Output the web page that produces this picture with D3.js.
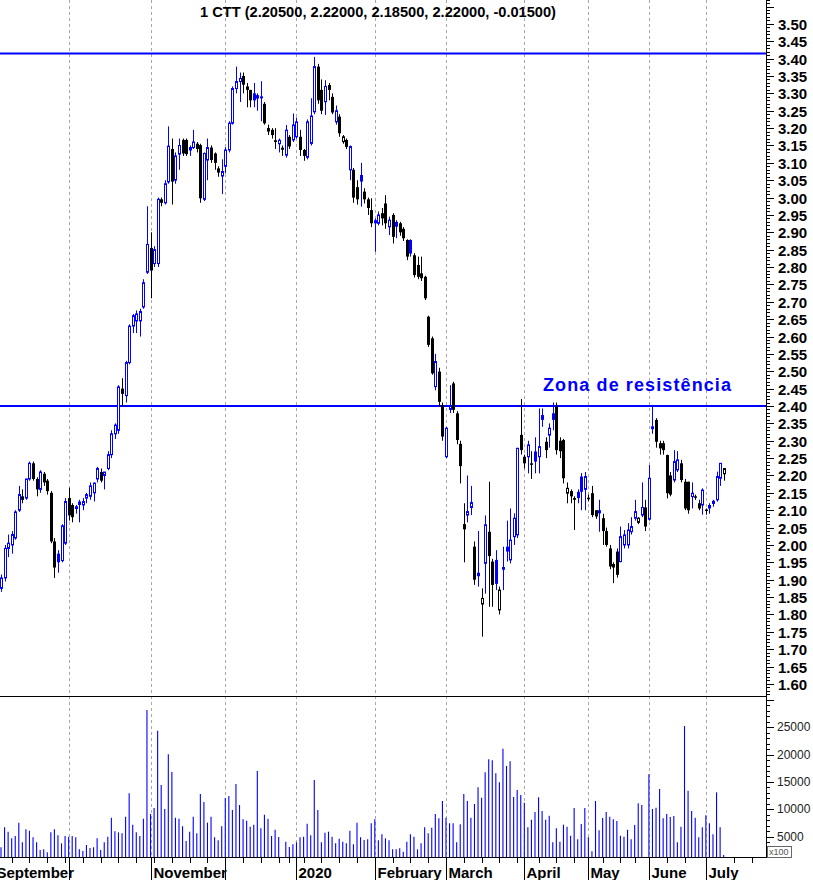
<!DOCTYPE html>
<html>
<head>
<meta charset="utf-8">
<script src="https://cdn.jsdelivr.net/npm/d3@7/dist/d3.min.js"></script>
<style>
  html, body { margin: 0; padding: 0; background: #fff; }
  svg { display: block; }
  text { font-family: "Liberation Sans", Arial, sans-serif; }
</style>
</head>
<body>
<svg id="chart" width="813" height="880"></svg>
<script>
// ---------------- DATA ----------------
const title = "1 CTT (2.20500, 2.22000, 2.18500, 2.22000, -0.01500)";
const annotation = "Zona de resistência";
const resistanceLevels = [3.415, 2.40];

const open = [
 1.875,1.905,1.99,2.00,2.02,2.10,2.14,2.135,2.19,2.235,2.19,2.16,2.205,2.185,2.15,2.01,1.975,1.955,2.005,
 2.135,2.115,2.105,2.125,2.115,2.135,2.14,2.15,2.19,2.21,2.20,2.22,2.26,2.32,2.33,2.45,2.43,2.525,2.63,2.645,2.645,2.685,2.785,
 2.855,2.81,2.81,2.995,2.985,3.045,3.14,3.05,3.125,3.166,3.166,3.137,3.144,3.155,3.151,2.995,3.108,3.144,3.127,3.084,3.062,
 3.09,3.137,3.214,3.314,3.334,3.35,3.32,3.31,3.30,3.295,3.29,3.27,3.20,3.195,3.165,3.155,3.14,3.122,3.175,3.166,
 3.175,3.175,3.137,3.116,3.156,3.247,3.377,3.31,3.276,3.324,3.29,3.218,3.233,3.161,3.166,3.08,3.08,3.03,3.065,3.017,2.995,2.964,
 2.935,2.926,2.955,2.983,2.916,2.95,2.93,2.926,2.91,2.878,2.878,2.834,2.806,2.782,2.772,2.657,2.595,2.456,2.499,2.403,
 2.254,2.39,2.465,2.379,2.291,2.06,2.086,2.108,1.995,1.92,1.83,1.947,2.038,1.952,1.957,1.813,1.93,1.995,1.957,2.024,2.029,2.317,
 2.254,2.254,2.235,2.269,2.254,2.374,2.297,2.316,2.379,2.398,2.30,2.302,2.149,2.155,2.135,2.153,2.197,2.16,
 2.136,2.149,2.10,2.10,2.077,2.04,1.99,1.945,1.981,1.952,2.00,2.00,2.038,2.077,2.065,2.086,2.108,
 2.074,2.335,2.36,2.293,2.293,2.259,2.20,2.187,2.216,2.235,2.182,2.182,2.139,2.14,2.12,2.115,
 2.102,2.115,2.127,2.13,2.192,2.205
];
const high = [
 1.915,2.00,2.03,2.04,2.10,2.17,2.16,2.19,2.24,2.24,2.195,2.215,2.21,2.19,2.155,2.02,1.985,2.06,2.135,
 2.165,2.12,2.115,2.13,2.135,2.15,2.18,2.18,2.225,2.22,2.21,2.27,2.33,2.35,2.46,2.48,2.53,2.635,2.665,2.675,2.68,2.765,2.975,
 2.90,2.86,3.00,3.00,3.05,3.205,3.17,3.13,3.17,3.17,3.17,3.15,3.195,3.16,3.155,3.13,3.17,3.15,3.13,3.09,3.11,
 3.145,3.22,3.32,3.377,3.36,3.36,3.33,3.31,3.33,3.30,3.335,3.275,3.21,3.20,3.20,3.17,3.15,3.209,3.18,3.242,
 3.23,3.195,3.14,3.225,3.286,3.405,3.385,3.34,3.338,3.33,3.30,3.265,3.24,3.18,3.17,3.15,3.085,3.05,3.10,3.027,3.00,2.998,
 2.94,2.96,2.97,3.007,2.945,2.955,2.935,2.93,2.915,2.88,2.88,2.84,2.83,2.83,2.775,2.66,2.60,2.55,2.51,2.41,
 2.34,2.46,2.47,2.385,2.30,2.12,2.20,2.17,2.01,2.04,1.875,2.085,2.182,1.96,1.985,1.88,1.995,2.07,2.105,2.091,2.28,2.42,
 2.26,2.30,2.27,2.31,2.393,2.393,2.31,2.35,2.41,2.41,2.31,2.305,2.18,2.16,2.14,2.16,2.207,2.21,
 2.145,2.17,2.10,2.13,2.09,2.05,2.00,1.95,1.99,2.053,2.043,2.063,2.08,2.13,2.08,2.18,2.13,
 2.23,2.403,2.365,2.30,2.30,2.26,2.21,2.273,2.27,2.245,2.19,2.182,2.18,2.145,2.13,2.163,
 2.105,2.12,2.13,2.211,2.235,2.22
];
const low = [
 1.865,1.895,1.965,1.975,2.015,2.095,2.12,2.13,2.185,2.185,2.14,2.15,2.17,2.145,2.005,1.905,1.92,1.95,2.00,
 2.07,2.065,2.09,2.065,2.10,2.12,2.13,2.125,2.18,2.18,2.16,2.215,2.25,2.305,2.32,2.40,2.41,2.52,2.61,2.61,2.60,2.68,2.78,
 2.71,2.80,2.80,2.975,2.98,3.04,2.98,3.04,3.08,3.12,3.12,3.12,3.14,3.13,2.985,2.99,3.05,3.10,3.08,3.06,3.01,
 3.07,3.13,3.21,3.30,3.275,3.30,3.26,3.26,3.26,3.25,3.22,3.21,3.18,3.17,3.14,3.13,3.12,3.115,3.14,3.16,
 3.17,3.12,3.106,3.11,3.15,3.24,3.27,3.24,3.238,3.28,3.24,3.21,3.175,3.155,3.14,3.05,2.985,2.98,2.974,2.983,2.95,2.915,
 2.844,2.92,2.92,2.91,2.892,2.868,2.883,2.89,2.875,2.82,2.83,2.77,2.765,2.76,2.705,2.57,2.49,2.445,2.40,2.30,
 2.25,2.38,2.38,2.29,2.177,1.95,2.065,2.086,1.885,1.88,1.736,1.86,1.822,1.822,1.87,1.80,1.87,1.952,1.947,2.00,2.02,2.26,
 2.22,2.206,2.19,2.206,2.206,2.34,2.25,2.28,2.33,2.26,2.25,2.177,2.12,2.12,2.043,2.12,2.10,2.10,
 2.125,2.08,2.075,2.038,2.00,1.995,1.93,1.89,1.906,1.95,1.99,1.99,2.03,2.07,2.06,2.08,2.04,
 2.07,2.32,2.28,2.26,2.26,2.134,2.14,2.18,2.21,2.18,2.10,2.09,2.105,2.13,2.10,2.087,
 2.087,2.09,2.11,2.125,2.17,2.185
];
const close = [
 1.905,1.99,2.005,2.03,2.095,2.145,2.13,2.19,2.235,2.19,2.16,2.21,2.18,2.155,2.01,1.935,1.95,2.055,2.125,
 2.085,2.08,2.11,2.115,2.125,2.145,2.17,2.178,2.22,2.185,2.21,2.26,2.32,2.345,2.455,2.435,2.525,2.63,2.66,2.665,2.672,2.755,2.865,
 2.79,2.85,2.995,2.985,3.04,3.148,3.046,3.12,3.15,3.127,3.125,3.144,3.16,3.14,2.998,3.127,3.144,3.108,3.10,3.072,3.075,
 3.137,3.214,3.314,3.334,3.343,3.325,3.31,3.28,3.28,3.285,3.29,3.214,3.19,3.18,3.16,3.165,3.142,3.194,3.147,3.209,
 3.218,3.137,3.12,3.218,3.235,3.377,3.28,3.25,3.32,3.31,3.245,3.25,3.185,3.175,3.146,3.147,3.0,2.995,3.046,2.995,2.97,2.926,
 2.926,2.95,2.94,2.926,2.935,2.887,2.916,2.90,2.883,2.83,2.839,2.777,2.772,2.768,2.71,2.576,2.494,2.528,2.412,2.312,
 2.336,2.40,2.389,2.302,2.227,2.045,2.096,2.122,1.90,1.91,1.846,2.058,1.968,1.885,1.888,1.87,1.935,1.981,2.014,2.077,2.278,2.273,
 2.235,2.288,2.232,2.24,2.283,2.36,2.273,2.336,2.36,2.273,2.27,2.192,2.163,2.14,2.13,2.135,2.153,2.197,
 2.134,2.086,2.082,2.091,2.04,2.00,1.938,1.935,1.914,2.024,2.029,2.043,2.053,2.096,2.077,2.108,2.053,
 2.192,2.34,2.297,2.278,2.273,2.149,2.145,2.24,2.245,2.187,2.105,2.10,2.149,2.139,2.105,2.158,
 2.098,2.105,2.118,2.197,2.235,2.22
];
// volume, in hundreds of shares ("x100")
const volume = [
 3050,6700,5910,4690,5120,7560,3960,6340,6090,4870,3960,2560,2680,2130,5790,6340,5240,3780,5120,
 5000,5120,4870,2680,2370,3470,2920,3050,4690,2560,3960,5000,8470,5970,5790,5600,8650,12920,7190,5790,5120,8290,28150,
 9140,10240,24380,14440,10050,20050,16820,8470,8290,6890,4200,5910,8650,5600,12800,11330,7560,8650,4870,4320,6890,
 12070,12430,9870,14620,10780,8170,7920,6820,7190,17000,6520,9020,8290,5120,6280,4940,1000,4080,3110,3590,
 3960,4870,5000,7370,5240,15360,9870,3960,5730,5910,5000,3780,4630,4080,3780,6090,3590,7560,4870,4390,4510,7440,
 8170,4320,5420,4690,4320,2680,2680,2860,2250,4080,5420,5000,2680,3780,6700,5600,6640,9140,8350,11520,
 8470,7440,7440,3960,7250,12800,11520,8470,10970,14020,12130,16760,19130,18950,16580,14930,21090,17920,18770,12250,13530,12610,
 11210,6700,8110,9510,12190,9690,8110,8840,3960,6520,4080,7190,6820,5180,10240,4510,7310,10240,
 4870,2320,11520,6150,8410,9510,8650,8170,7860,5180,5000,6280,4510,7130,11090,10780,1000,
 16390,10050,10300,13710,8350,9140,8590,8770,3960,6820,25230,13410,9690,8470,4870,6700,
 8900,7440,5420,13100,6700,1650
];

// x-axis: bar index of each month's first session and its label
const monthStartIdx = [-2, 19, 42, 63, 83, 105, 125, 147, 165, 182, 198];
const monthLabels = ["September","October","November","December","2020","February","March","April","May","June","July"];
const weekTickIdx = [3,8,13,18,23,28,33,38,43,48,53,58,68,73,78,81,85,90,95,100,110,115,120,130,135,140,145,151,156,161,169,174,178,187,192,206,211];
const priceTicks = d3.range(160, 351, 5).map(d => d / 100);
const volumeTicks = [5000, 10000, 15000, 20000, 25000];

// ---------------- LAYOUT ----------------
const axisX = 766;
const sepY = 696;
const baseY = 857;

const svg = d3.select("#chart");

const x = d3.scaleLinear().domain([0, 214.61]).range([1, 765]);
const yP = d3.scaleLinear().domain([1.60, 3.50]).range([683.9, 23.9]);
const yV = d3.scaleLinear().domain([0, 25000]).range([864, 727.25]);

// clip paths
svg.append("clipPath").attr("id", "clipP").append("rect").attr("x", 0).attr("y", 0).attr("width", axisX).attr("height", sepY);
svg.append("clipPath").attr("id", "clipV").append("rect").attr("x", 0).attr("y", sepY + 1).attr("width", axisX).attr("height", baseY - sepY - 1);

// month gridlines
const grid = svg.append("g");
monthStartIdx.forEach(i => {
  const gx = Math.round(x(i)) + 0.5;
  if (gx < 0 || gx > axisX) return;
  grid.append("line").attr("x1", gx).attr("x2", gx).attr("y1", 0).attr("y2", baseY)
    .attr("stroke", "#a8a8a8").attr("stroke-width", 1).attr("stroke-dasharray", "3,3");
});

// resistance lines
const gp = svg.append("g").attr("clip-path", "url(#clipP)");
resistanceLevels.forEach(lv => {
  gp.append("line").attr("x1", 0).attr("x2", axisX).attr("y1", yP(lv)).attr("y2", yP(lv))
    .attr("stroke", "#0000ff").attr("stroke-width", 2);
});

// candles
const n = close.length;
for (let i = 0; i < n; i++) {
  const col = (i === 0 || close[i] >= close[i - 1]) ? "#0000ff" : "#000000";
  const hollow = close[i] >= open[i];
  const cx = Math.round(x(i)) + 0.5;
  gp.append("line").attr("x1", cx).attr("x2", cx)
    .attr("y1", yP(high[i])).attr("y2", yP(low[i]))
    .attr("stroke", col).attr("stroke-width", 1);
  const yTop = yP(Math.max(open[i], close[i]));
  const yBot = yP(Math.min(open[i], close[i]));
  if (hollow) {
    const h = Math.max(1, yBot - yTop);
    gp.append("rect").attr("x", cx - 1).attr("y", yTop).attr("width", 2).attr("height", h)
      .attr("fill", "#fff").attr("stroke", col).attr("stroke-width", 1);
  } else {
    const h = Math.max(1.5, yBot - yTop);
    gp.append("rect").attr("x", cx - 1.5).attr("y", yTop).attr("width", 3).attr("height", h)
      .attr("fill", col);
  }
}

// volume bars
const gv = svg.append("g").attr("clip-path", "url(#clipV)");
for (let i = 0; i < n; i++) {
  const vx = x(i);
  gv.append("line").attr("x1", vx).attr("x2", vx).attr("y1", yV(volume[i])).attr("y2", baseY)
    .attr("stroke", "#0000ff").attr("stroke-width", 1.1);
}

// frame lines
svg.append("line").attr("x1", 0).attr("x2", axisX).attr("y1", sepY + 0.5).attr("y2", sepY + 0.5).attr("stroke", "#000").attr("stroke-width", 1);
svg.append("line").attr("x1", 0).attr("x2", axisX + 2).attr("y1", baseY + 0.5).attr("y2", baseY + 0.5).attr("stroke", "#000").attr("stroke-width", 1);
svg.append("line").attr("x1", axisX + 0.5).attr("x2", axisX + 0.5).attr("y1", 0).attr("y2", baseY).attr("stroke", "#000").attr("stroke-width", 1);

// price axis ticks
const axg = svg.append("g");
for (let k = 157; k <= 357; k++) {
  const p = k / 100;
  const ty = Math.round(yP(p)) + 0.5;
  if (ty < 0 || ty > sepY + 2) continue;
  const major = k % 5 === 0;
  axg.append("line").attr("x1", axisX).attr("x2", axisX + (major ? 8 : 4))
    .attr("y1", ty).attr("y2", ty).attr("stroke", "#000").attr("stroke-width", 1);
}
priceTicks.forEach(p => {
  axg.append("text").attr("x", 778).attr("y", yP(p) + 2).attr("dominant-baseline", "middle")
    .attr("font-size", 15).attr("font-weight", "bold").attr("fill", "#000").text(p.toFixed(2));
});

// volume axis ticks
for (let v = 2000; v <= 30000; v += 1000) {
  const ty = Math.round(yV(v)) + 0.5;
  if (ty <= sepY + 1 || ty >= baseY) continue;
  const major = v % 5000 === 0;
  axg.append("line").attr("x1", axisX).attr("x2", axisX + (major ? 8 : 4))
    .attr("y1", ty).attr("y2", ty).attr("stroke", "#000").attr("stroke-width", 1);
}
volumeTicks.forEach(v => {
  axg.append("text").attr("x", 777).attr("y", yV(v) + 1).attr("dominant-baseline", "middle")
    .attr("font-size", 12).attr("fill", "#222").text(d3.format("d")(v));
});
// x100 box
axg.append("rect").attr("x", 767.5).attr("y", 846.5).attr("width", 24).attr("height", 11)
  .attr("fill", "#fff").attr("stroke", "#666").attr("stroke-width", 1);
axg.append("text").attr("x", 769).attr("y", 855).attr("font-size", 9).attr("fill", "#555").text("x100");

// x axis ticks and month labels (labels that would crowd the previous one are skipped)
const xg = svg.append("g");
weekTickIdx.forEach(i => {
  const tx = Math.round(x(i)) + 0.5;
  xg.append("line").attr("x1", tx).attr("x2", tx).attr("y1", baseY).attr("y2", baseY + 6)
    .attr("stroke", "#000").attr("stroke-width", 1);
});
let lastEnd = -Infinity;
monthStartIdx.forEach((i, k) => {
  const tx = Math.round(x(i)) + 0.5;
  xg.append("line").attr("x1", tx).attr("x2", tx).attr("y1", baseY).attr("y2", 880)
    .attr("stroke", "#000").attr("stroke-width", 1);
  const lx = tx + 2;
  if (lx < lastEnd + 6) return;
  const t = xg.append("text").attr("x", lx).attr("y", 878).attr("font-size", 15)
    .attr("font-weight", "bold").attr("fill", "#000").text(monthLabels[k]);
  lastEnd = lx + t.node().getComputedTextLength();
});

// title
svg.append("text").attr("x", 200).attr("y", 17).attr("font-size", 14).attr("font-weight", "bold")
  .attr("textLength", 356).attr("lengthAdjust", "spacingAndGlyphs").attr("fill", "#000").text(title);

// annotation
svg.append("text").attr("x", 543).attr("y", 391).attr("font-size", 18).attr("font-weight", "bold")
  .attr("textLength", 188).attr("lengthAdjust", "spacing").attr("fill", "#0000ff").text(annotation);
</script>
</body>
</html>
